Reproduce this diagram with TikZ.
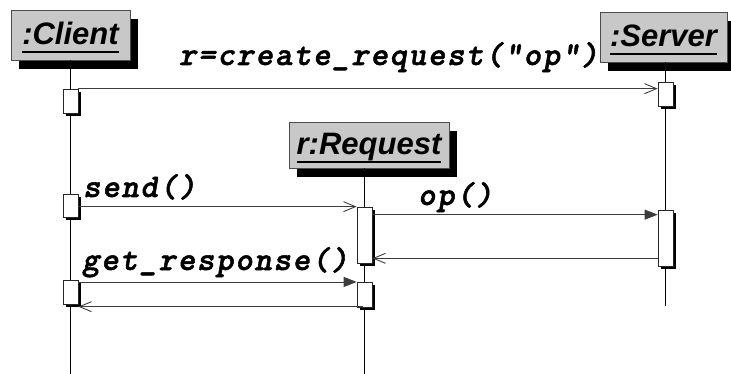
\documentclass[tikz,border=0pt]{standalone}
\usepackage{fontspec}
\setmainfont{Liberation Sans}
\newfontfamily\msgfont[Extension=.otf, LetterSpace=5.5, FakeBold=1.6]{lmmonolt10-boldoblique}
\usetikzlibrary{shadows,arrows.meta}
\definecolor{hdrgray}{RGB}{200,200,200}
\definecolor{msgline}{RGB}{60,60,60}
\newcommand\ulbox[1]{\setbox0\hbox{#1}\rlap{\rule[-8pt]{\wd0}{2.2pt}}\box0}
\begin{document}
\begin{tikzpicture}[x=1pt,y=-1pt,
  obj/.style={draw=black!70, fill=hdrgray, line width=0.6pt, inner sep=0pt,
    minimum height=50pt, text height=24pt, text depth=4pt,
    font=\fontsize{31}{31}\selectfont\bfseries\itshape,
    drop shadow={shadow xshift=8pt,shadow yshift=-9pt,fill=black,opacity=1}},
  act/.style={draw=black!85, fill=white, line width=0.7pt, minimum width=15pt, inner sep=0pt,
    drop shadow={shadow xshift=3pt,shadow yshift=-3pt,fill=black,opacity=1}},
  life/.style={draw=black, line width=0.8pt},
  msg/.style={draw=msgline, line width=0.9pt},
  call/.style={msg, -{Triangle[length=13pt,width=10pt]}},
  open/.style={msg, -{Straight Barb[length=12pt,width=10pt,line width=0.9pt]}},
  lbl/.style={anchor=base west, inner sep=0pt, font=\msgfont\fontsize{33}{33}\selectfont}
]
\useasboundingbox (0,0) rectangle (731,374);
\coordinate (bot) at (0,374);
\coordinate (sbot) at (0,306);

% objects
\node[obj, minimum width=119pt] (client) at (70.5,35) {\ulbox{:Client}};
\node[obj, minimum width=127pt] (server) at (663.5,37) {\ulbox{:Server}};
\node[obj, minimum width=160pt, minimum height=46pt] (req) at (369,145) {\ulbox{r:Request}};

% activation positions
\path (70.5,101) coordinate (pa1) (70.5,205.7) coordinate (pa2) (70.5,292) coordinate (pa3)
      (364.5,235) coordinate (pr1) (364.5,294.8) coordinate (pr2)
      (665.5,94) coordinate (pb1) (665.5,238) coordinate (pb2);

% lifelines
\draw[life] (client.south -| pa1) -- (pa1 |- bot) coordinate (clbot);
\draw[life] (server.south -| pb1) -- (pb1 |- sbot) coordinate (svbot);
\draw[life] (req.south -| pr1) -- (pr1 |- bot) coordinate (rqbot);

% activations
\node[act, minimum height=24pt] (a1) at (pa1) {};
\node[act, minimum height=23pt] (a2) at (pa2) {};
\node[act, minimum height=24pt] (a3) at (pa3) {};
\node[act, minimum height=56pt] (r1) at (pr1) {};
\node[act, minimum height=25pt] (r2) at (pr2) {};
\node[act, minimum height=24pt] (b1) at (pb1) {};
\node[act, minimum height=56pt] (b2) at (pb2) {};

% messages
\draw[open] (a1.north east) -- (a1.north east -| b1.west);
\draw[open] (r1.north west -| a2.east) -- (r1.north west);
\coordinate (opy) at ([yshift=-5pt]b2.north west);
\draw[call] (opy -| r1.east) -- (opy);
\coordinate (ret1) at ([yshift=8pt]b2.south west);
\draw[open] (ret1) -- (ret1 -| r1.east);
\draw[call] (r2.north west -| a3.east) -- (r2.north west);
\coordinate (ret2) at ([yshift=1pt,xshift=-2pt]r2.south);
\draw[open] (ret2) -- (ret2 -| a3.east);

% labels
\node[lbl] (l1) at (179,65) {r=create\_request(“op”)};
\node[lbl] (l2) at (83,197) {send()};
\node[lbl] (l3) at (418,205) {op()};
\node[lbl] (l4) at (82,270) {get\_response()};
\end{tikzpicture}
\end{document}
